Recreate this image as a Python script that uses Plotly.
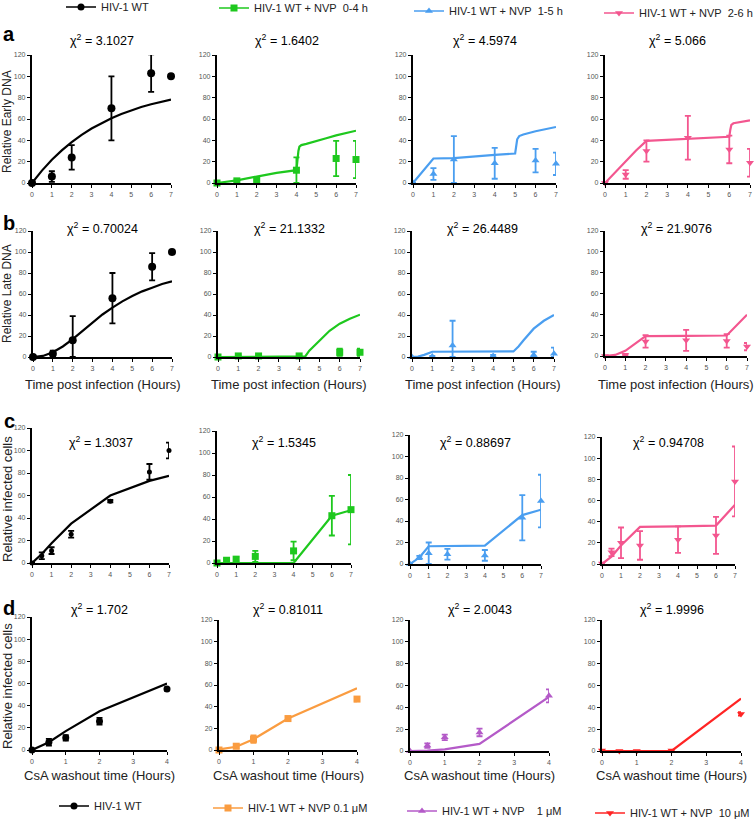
import plotly.graph_objects as go

W, H = 756, 820

# ---------------- DATA ----------------
# Row a: Relative Early DNA
t_a = [0, 1, 2, 4, 6, 7]
a_wt = [0, 6, 24, 70, 103, 100]
a_wt_err = [0, 5, 11.5, 30, 17.5, 0]
a_wt_fit_x = [0, 0.5, 1, 1.5, 2, 2.5, 3, 3.5, 4, 4.5, 5, 5.5, 6, 6.5, 7]
a_wt_fit_y = [0, 11.6, 21.8, 30.6, 38.4, 45.2, 51.1, 56.2, 60.7, 64.7, 68.2, 71.2, 73.8, 76.1, 78.1]

a_g = [0, 2, 3, 12, 23, 22]
a_g_err = [0, 1, 1, 12, 16.5, 17.5]
a_g_fit_x = [0, 1, 2, 3, 4, 4.05, 4.1, 4.15, 4.25, 4.5, 5, 5.5, 6, 6.5, 7]
a_g_fit_y = [0, 2.5, 6, 9.5, 12, 22, 30, 34, 35.5, 36.7, 39, 42, 44.7, 47, 49]

a_b = [0, 8.5, 22, 18.5, 21, 18]
a_b_err = [0, 5.5, 22, 14.5, 11, 10.5]
a_b_fit_x = [0, 1, 2, 3, 4, 5, 5.05, 5.1, 5.2, 5.4, 6, 7]
a_b_fit_y = [0, 23, 23.3, 25, 26.4, 27.6, 34, 41, 44, 45.5, 48.5, 52.5]

a_p = [0, 8, 30, 42.5, 31.5, 19]
a_p_err = [0, 4, 10, 20.5, 13, 13]
a_p_fit_x = [0, 0.5, 1, 1.5, 2, 3, 4, 5, 6, 6.05, 6.1, 6.2, 6.5, 7]
a_p_fit_y = [0, 10.5, 20.5, 30.5, 39.5, 40.3, 41.2, 42.2, 43.3, 50, 54.5, 56, 57, 58.8]

# Row b: Relative Late DNA
t_b = [0, 1, 2, 4, 6, 7]
b_wt = [0, 3, 16, 56, 86, 100]
b_wt_err = [0, 3, 23, 24, 13, 0]
b_wt_fit_x = [0, 0.5, 1, 1.5, 2, 2.5, 3, 3.5, 4, 4.5, 5, 5.5, 6, 6.5, 7]
b_wt_fit_y = [0, 1, 4.5, 10, 17, 25, 33, 40.5, 47, 53, 58, 62.5, 66, 69.5, 72]

b_g = [0, 1, 1, 1, 4.5, 4.5]
b_g_err = [0, 0.5, 0.5, 0.5, 3.5, 3.5]
b_g_fit_x = [0, 4, 4.3, 4.5, 5, 5.5, 6, 6.5, 7]
b_g_fit_y = [0, 0, 0.5, 6, 16, 25, 31.7, 36.5, 40.3]

b_b = [0, 0.5, 11, 1, 2, 3]
b_b_err = [0, 0.5, 23.5, 1, 3, 6]
b_b_fit_x = [0, 0.3, 0.6, 1, 5, 5.25, 5.5, 5.75, 6, 6.5, 7]
b_b_fit_y = [0, 0.3, 2, 5, 5.3, 10, 16, 22, 27, 34.5, 40]

b_p = [0, 1, 14, 15, 14.5, 9]
b_p_err = [0, 1, 6, 10, 6.5, 3.5]
b_p_fit_x = [0, 0.5, 1, 1.5, 2, 4, 6, 7]
b_p_fit_y = [0, 1, 5, 12, 19, 19.3, 19.7, 39.7]

# Row c: Relative infected cells (time post infection)
t_c = [0, 0.5, 1, 2, 4, 6, 7]
c_wt = [0, 6.5, 11, 25.5, 55, 81, 100]
c_wt_err = [0, 3, 3, 3, 1, 7, 7]
c_wt_fit = [0, 8, 17.5, 35, 60, 73, 77.5]

c_g = [0, 2.5, 3.5, 6, 11, 43, 48.5]
c_g_err = [0, 1, 2, 5, 8.5, 18, 31.5]
c_g_fit = [0, 0, 0, 0, 0, 43, 48]

c_b = [0, 6, 10, 9, 8, 43, 58.5]
c_b_err = [0, 1.5, 10, 5, 5, 21, 24.5]
c_b_fit = [0, 6, 16.5, 16.5, 17, 45.5, 50.5]

c_p = [0.5, 11, 20, 17.5, 23, 27, 78]
c_p_err = [0, 3.5, 14.5, 13.5, 12.5, 17.5, 33]
c_p_fit = [0, 7, 17.5, 35, 35.5, 36.3, 56]

# Row d: Relative infected cells (CsA washout time)
t_d = [0, 0.5, 1, 2, 4]
d_wt = [0, 7, 11, 26, 55]
d_wt_err = [0.5, 3, 2.5, 3, 1.5]
d_wt_fit = [0, 7, 17, 35, 60]

d_o = [0, 3.5, 10, 29, 47]
d_o_err = [0.5, 2, 3.5, 2, 2]
d_o_fit = [0.5, 3, 10, 29, 57]

d_pu = [0, 5, 12.5, 17, 50.5]
d_pu_err = [0, 2, 2.5, 3.5, 6]
d_pu_fit = [0, 0.3, 1.5, 6.5, 49.5]

d_r = [0.5, 0, 0, 0.5, 34]
d_r_err = [0, 0, 0, 0, 1.5]
d_r_fit = [0, 0, 0, 0, 48]

chi_a = ["3.1027", "1.6402", "4.5974", "5.066"]
chi_b = ["0.70024", "21.1332", "26.4489", "21.9076"]
chi_c = ["1.3037", "1.5345", "0.88697", "0.94708"]
chi_d = ["1.702", "0.81011", "2.0043", "1.9996"]

legend_top = ["HIV-1 WT", "HIV-1 WT + NVP\u00a0\u00a00-4 h",
              "HIV-1 WT + NVP\u00a0\u00a01-5 h", "HIV-1 WT + NVP\u00a0\u00a02-6 h"]
legend_bottom = ["HIV-1 WT", "HIV-1 WT + NVP 0.1 μM",
                 "HIV-1 WT + NVP\u00a0\u00a0\u00a0\u00a01 μM", "HIV-1 WT + NVP\u00a0\u00a010 μM"]

y_ticks = [0, 20, 40, 60, 80, 100, 120]
x_ticks_time = [0, 1, 2, 3, 4, 5, 6, 7]
x_ticks_csa = [0, 1, 2, 3, 4]

# ---------------- STYLE ----------------
BLACK = "#000000"
GREEN = "#1ec81e"
BLUE = "#4a9ef0"
PINK = "#f3568f"
ORANGE = "#fa9c40"
PURPLE = "#b45ac8"
RED = "#ff2424"

FONT = "Liberation Sans, Arial, sans-serif"

# plot boxes in pixels: left, right, top(y=120), bottom(y=0)
boxes = [
    [(32, 171, 55, 183), (217, 356, 55, 183), (413, 556, 55, 183), (605, 750, 55, 183)],
    [(33, 172, 231, 357), (218, 360, 231, 357), (412, 554, 231, 357), (605, 747, 231, 356)],
    [(32, 169, 428, 563), (217, 351, 431, 563), (410, 541, 435, 564), (602, 735, 437, 564)],
    [(32, 167, 617, 750), (219, 357, 620, 750), (410, 549, 620, 751), (602, 741, 620, 751)],
]

rows = [
    dict(t=t_a, chi=chi_a, xt=x_ticks_time, xr=7, series=[
        (a_wt, a_wt_err, a_wt_fit_x, a_wt_fit_y, BLACK, "circle", 8),
        (a_g, a_g_err, a_g_fit_x, a_g_fit_y, GREEN, "square", 7),
        (a_b, a_b_err, a_b_fit_x, a_b_fit_y, BLUE, "triangle-up", 7),
        (a_p, a_p_err, a_p_fit_x, a_p_fit_y, PINK, "triangle-down", 7)]),
    dict(t=t_b, chi=chi_b, xt=x_ticks_time, xr=7, series=[
        (b_wt, b_wt_err, b_wt_fit_x, b_wt_fit_y, BLACK, "circle", 8),
        (b_g, b_g_err, b_g_fit_x, b_g_fit_y, GREEN, "square", 7),
        (b_b, b_b_err, b_b_fit_x, b_b_fit_y, BLUE, "triangle-up", 7),
        (b_p, b_p_err, b_p_fit_x, b_p_fit_y, PINK, "triangle-down", 7)]),
    dict(t=t_c, chi=chi_c, xt=x_ticks_time, xr=7, series=[
        (c_wt, c_wt_err, t_c, c_wt_fit, BLACK, "circle", 5),
        (c_g, c_g_err, t_c, c_g_fit, GREEN, "square", 7),
        (c_b, c_b_err, t_c, c_b_fit, BLUE, "triangle-up", 7),
        (c_p, c_p_err, t_c, c_p_fit, PINK, "triangle-down", 7)]),
    dict(t=t_d, chi=chi_d, xt=x_ticks_csa, xr=4, series=[
        (d_wt, d_wt_err, t_d, d_wt_fit, BLACK, "circle", 7),
        (d_o, d_o_err, t_d, d_o_fit, ORANGE, "square", 7),
        (d_pu, d_pu_err, t_d, d_pu_fit, PURPLE, "triangle-up", 7),
        (d_r, d_r_err, t_d, d_r_fit, RED, "triangle-down", 7)]),
]

fig = go.Figure()
layout = dict(width=W, height=H, margin=dict(l=0, r=0, t=0, b=0, autoexpand=False),
              paper_bgcolor="white", plot_bgcolor="white",
              font=dict(family=FONT, color="#222", size=11), showlegend=True)
annotations = []


def px_x(v):
    return v / W


def px_y(v):
    return 1 - v / H


TICKFONT = dict(size=7, color="#555", family=FONT)

n = 0
for r, row in enumerate(rows):
    for c, s in enumerate(row["series"]):
        n += 1
        yv, err, fx, fy, color, sym, msize = s
        left, right, top, bottom = boxes[r][c]
        xa = "xaxis" if n == 1 else f"xaxis{n}"
        ya = "yaxis" if n == 1 else f"yaxis{n}"
        xref = "x" if n == 1 else f"x{n}"
        yref = "y" if n == 1 else f"y{n}"
        layout[xa] = dict(domain=[px_x(left), px_x(right)], anchor=yref,
                          range=[0, row["xr"]], tickvals=row["xt"],
                          showline=True, linecolor="black", linewidth=2.2,
                          ticks="outside", ticklen=3, tickwidth=1.2, tickcolor="black",
                          showgrid=False, zeroline=False, tickfont=TICKFONT)
        layout[ya] = dict(domain=[px_y(bottom), px_y(top)], anchor=xref,
                          range=[0, 120], tickvals=y_ticks,
                          showline=True, linecolor="black", linewidth=2.2,
                          ticks="outside", ticklen=3, tickwidth=1.2, tickcolor="black",
                          showgrid=False, zeroline=False, tickfont=TICKFONT)
        # fit line
        fig.add_trace(go.Scatter(x=fx, y=fy, mode="lines", xaxis=xref, yaxis=yref,
                                 line=dict(color=color, width=2.2), showlegend=False,
                                 hoverinfo="skip"))
        # data points with error bars
        fig.add_trace(go.Scatter(
            x=row["t"], y=yv, mode="markers", xaxis=xref, yaxis=yref,
            marker=dict(color=color, symbol=sym, size=msize),
            error_y=dict(type="data", array=err,
                         arrayminus=[min(e, v) for e, v in zip(err, yv)],
                         color=color, thickness=1.8, width=3),
            cliponaxis=False, showlegend=False))
        # chi-squared title
        annotations.append(dict(
            x=(left + right) / 2 / W, y=px_y([40, 228, 442, 609][r]),
            xref="paper", yref="paper", showarrow=False,
            text=f"χ<sup>2</sup> = {row['chi'][c]}",
            font=dict(size=12.5, color="black", family=FONT),
            xanchor="center", yanchor="middle"))

# legends: (text start x, center y) in pixels
legend_pos_top = [(94, 7), (247, 8), (442, 11), (632, 13)]
legend_pos_bot = [(87, 806), (241, 808), (435, 811), (623, 813)]
TEXT_OFFSET = 33
for i in range(4):
    s = rows[0]["series"][i]
    lname = "legend" if i == 0 else f"legend{i + 1}"
    fig.add_trace(go.Scatter(x=[None], y=[None], mode="lines+markers", name=legend_top[i],
                             line=dict(color=s[4], width=1.5),
                             marker=dict(color=s[4], symbol=s[5], size=7),
                             legend=lname, showlegend=True))
    lx, ly = legend_pos_top[i]
    layout[lname] = dict(x=(lx - TEXT_OFFSET) / W, y=px_y(ly), xref="container", yref="container",
                         xanchor="left", yanchor="middle",
                         orientation="h", itemwidth=30, bgcolor="rgba(0,0,0,0)",
                         font=dict(size=11, color="#222", family=FONT))
for i in range(4):
    s = rows[3]["series"][i]
    lname = f"legend{i + 5}"
    fig.add_trace(go.Scatter(x=[None], y=[None], mode="lines+markers", name=legend_bottom[i],
                             line=dict(color=s[4], width=1.5),
                             marker=dict(color=s[4], symbol=s[5], size=7),
                             legend=lname, showlegend=True))
    lx, ly = legend_pos_bot[i]
    layout[lname] = dict(x=(lx - TEXT_OFFSET) / W, y=px_y(ly), xref="container", yref="container",
                         xanchor="left", yanchor="middle",
                         orientation="h", itemwidth=30, bgcolor="rgba(0,0,0,0)",
                         font=dict(size=11, color="#222", family=FONT))

# panel letters
for letter, yy in [("a", 34), ("b", 223), ("c", 421), ("d", 608)]:
    annotations.append(dict(x=px_x(9), y=px_y(yy), xref="paper", yref="paper",
                            showarrow=False, text=f"<b>{letter}</b>",
                            font=dict(size=20, color="black", family=FONT),
                            xanchor="center", yanchor="middle"))

# y axis titles
for text, yy, sz in [("Relative Early DNA", 122, 12), ("Relative Late DNA", 294, 12),
                     ("Relative infected cells", 499, 13), ("Relative infected cells", 686, 13)]:
    annotations.append(dict(x=px_x(7), y=px_y(yy), xref="paper", yref="paper",
                            showarrow=False, text=text, textangle=-90,
                            font=dict(size=sz, color="#222", family=FONT),
                            xanchor="center", yanchor="middle"))

# x axis titles
for c in range(4):
    l, rgt, _, _ = boxes[1][c]
    annotations.append(dict(x=(l + rgt) / 2 / W, y=px_y(384), xref="paper", yref="paper",
                            showarrow=False, text="Time post infection (Hours)",
                            font=dict(size=13, color="#222", family=FONT),
                            xanchor="center", yanchor="middle"))
    l, rgt, _, _ = boxes[3][c]
    annotations.append(dict(x=(l + rgt) / 2 / W, y=px_y(775), xref="paper", yref="paper",
                            showarrow=False, text="CsA washout time (Hours)",
                            font=dict(size=13, color="#222", family=FONT),
                            xanchor="center", yanchor="middle"))

layout["annotations"] = annotations
fig.update_layout(**layout)
fig.write_html("out.html", config={"displayModeBar": False},
               post_script="document.body.style.margin='0';document.body.style.padding='0';")
